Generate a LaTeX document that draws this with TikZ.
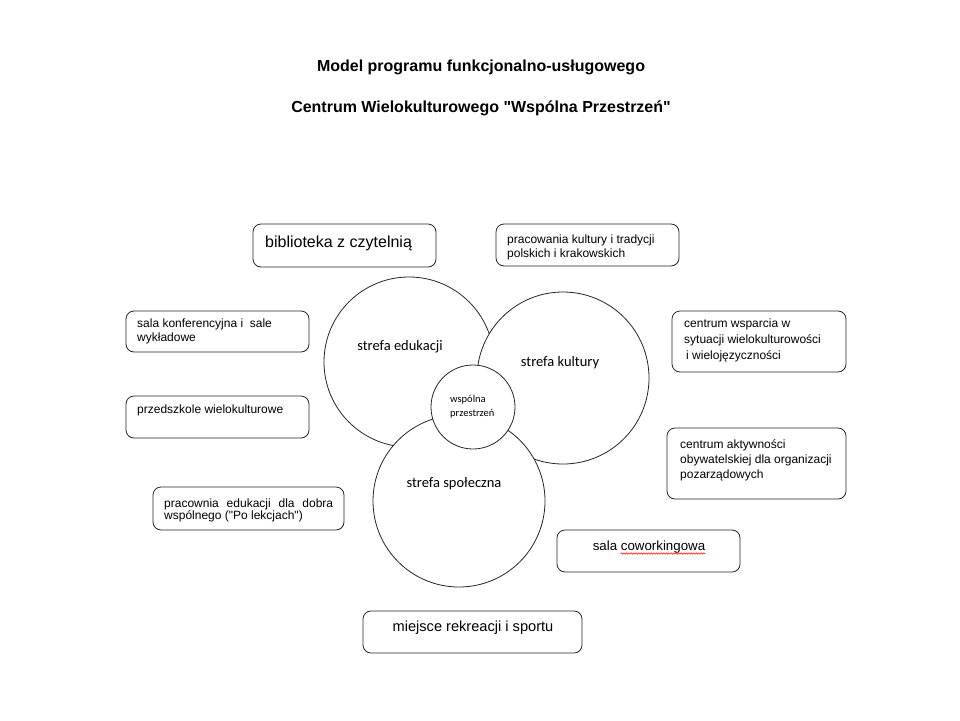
\documentclass[tikz,border=0pt]{standalone}
\usepackage{fontspec}
\setmainfont{Liberation Sans}
\newfontfamily\carlito{Carlito}
\newfontfamily\arialq{Liberation Sans}
\newcommand\dq{{\arialq"}}
\usetikzlibrary{decorations.pathmorphing}
\begin{document}
\begin{tikzpicture}[x=1pt,y=-1pt,
  boxnode/.style={draw=black!85, line width=0.8pt, rounded corners=8pt, inner sep=0pt},
  zone/.style={draw=black!85, line width=0.8pt, fill=white, circle, inner sep=0pt},
  boxtext/.style={anchor=north west, inner sep=0pt, align=left, font=\fontsize{12}{14}\selectfont},
  linetext/.style={anchor=base west, inner sep=0pt, font=\fontsize{12}{14}\selectfont},
  zonetext/.style={anchor=base, inner sep=0pt, font=\carlito\fontsize{14.5}{17}\selectfont},
  titletext/.style={anchor=base, inner sep=0pt, font=\bfseries\fontsize{16}{19}\selectfont},
]
\useasboundingbox[fill=white] (0,0) rectangle (960,720);

% title
\node[titletext] (title1) at (481,71.3) {Model programu funkcjonalno-usługowego};
\node[titletext] (title2) at (481,112.7) {Centrum Wielokulturowego \dq Wspólna Przestrzeń\dq};

% circles
\node[zone, minimum size=170pt] (edu) at (409,362) {};
\node[zone, minimum size=172pt] (kul) at (563,378) {};
\node[zone, minimum size=172pt] (spo) at (459,501) {};
\node[zone, minimum size=84pt] (wsp) at (473,407) {};

\node[zonetext] (edut) at (400,350) {strefa edukacji};
\node[zonetext] (kult) at (560,366) {strefa kultury};
\node[zonetext] (spot) at (454,487.3) {strefa społeczna};
\node[anchor=north west, inner sep=0pt, align=left, font=\carlito\fontsize{10.5}{13.4}\selectfont] (wspt) at (450,395.5) {wspólna\\przestrzeń};

% boxes
\node[boxnode, minimum width=183pt, minimum height=43pt] (bib) at (344.5,245.5) {};
\node[anchor=base west, inner sep=0pt, font=\fontsize{16}{19}\selectfont] (bibt) at (265,247.5) {biblioteka z czytelnią};

\node[boxnode, minimum width=183pt, minimum height=41pt] (konf) at (217.5,331.5) {};
\node[boxtext] (konft) at (137,319) {sala konferencyjna i \ sale\\wykładowe};

\node[boxnode, minimum width=183pt, minimum height=42pt] (przed) at (217.5,417) {};
\node[linetext] (przedt) at (137,413) {przedszkole wielokulturowe};

\node[boxnode, minimum width=191pt, minimum height=43pt] (prac) at (248.5,508.5) {};
\node[boxtext, font=\fontsize{12}{12}\selectfont] (pract) at (164,498.4) {\makebox[169pt][s]{pracownia edukacji dla dobra}\\wspólnego (\dq Po lekcjach\dq)};

\node[boxnode, minimum width=183pt, minimum height=42pt] (kult2) at (587.5,245) {};
\node[boxtext, font=\fontsize{12}{13.5}\selectfont] (kult2t) at (507,234.7) {pracowania kultury i tradycji\\polskich i krakowskich};

\node[boxnode, minimum width=174pt, minimum height=61pt] (wsparcie) at (759,341.5) {};
\node[boxtext, font=\fontsize{12}{16}\selectfont] (wspariet) at (684,318.4) {centrum wsparcia w\\sytuacji wielokulturowości\\\hspace*{2pt}i wielojęzyczności};

\node[boxnode, minimum width=179pt, minimum height=71pt] (aktyw) at (756.5,463.5) {};
\node[boxtext, font=\fontsize{12}{15.3}\selectfont] (aktywt) at (680,439) {centrum aktywności\\obywatelskiej dla organizacji\\pozarządowych};

\node[boxnode, minimum width=183pt, minimum height=42pt] (cowork) at (648.5,551) {};
\node[anchor=base, inner sep=0pt, font=\fontsize{13.3}{16}\selectfont] (coworkt) at (649,550) {sala coworkingowa};
\draw[red, line width=0.5pt, decorate, decoration={snake, amplitude=0.7pt, segment length=2.5pt}] (620.5,553.5) -- (705,553.5);

\node[boxnode, minimum width=219pt, minimum height=42pt] (rekr) at (472.5,632) {};
\node[anchor=base, inner sep=0pt, font=\fontsize{14.6}{17}\selectfont] (rekrt) at (473,631) {miejsce rekreacji i sportu};
\end{tikzpicture}
\end{document}
